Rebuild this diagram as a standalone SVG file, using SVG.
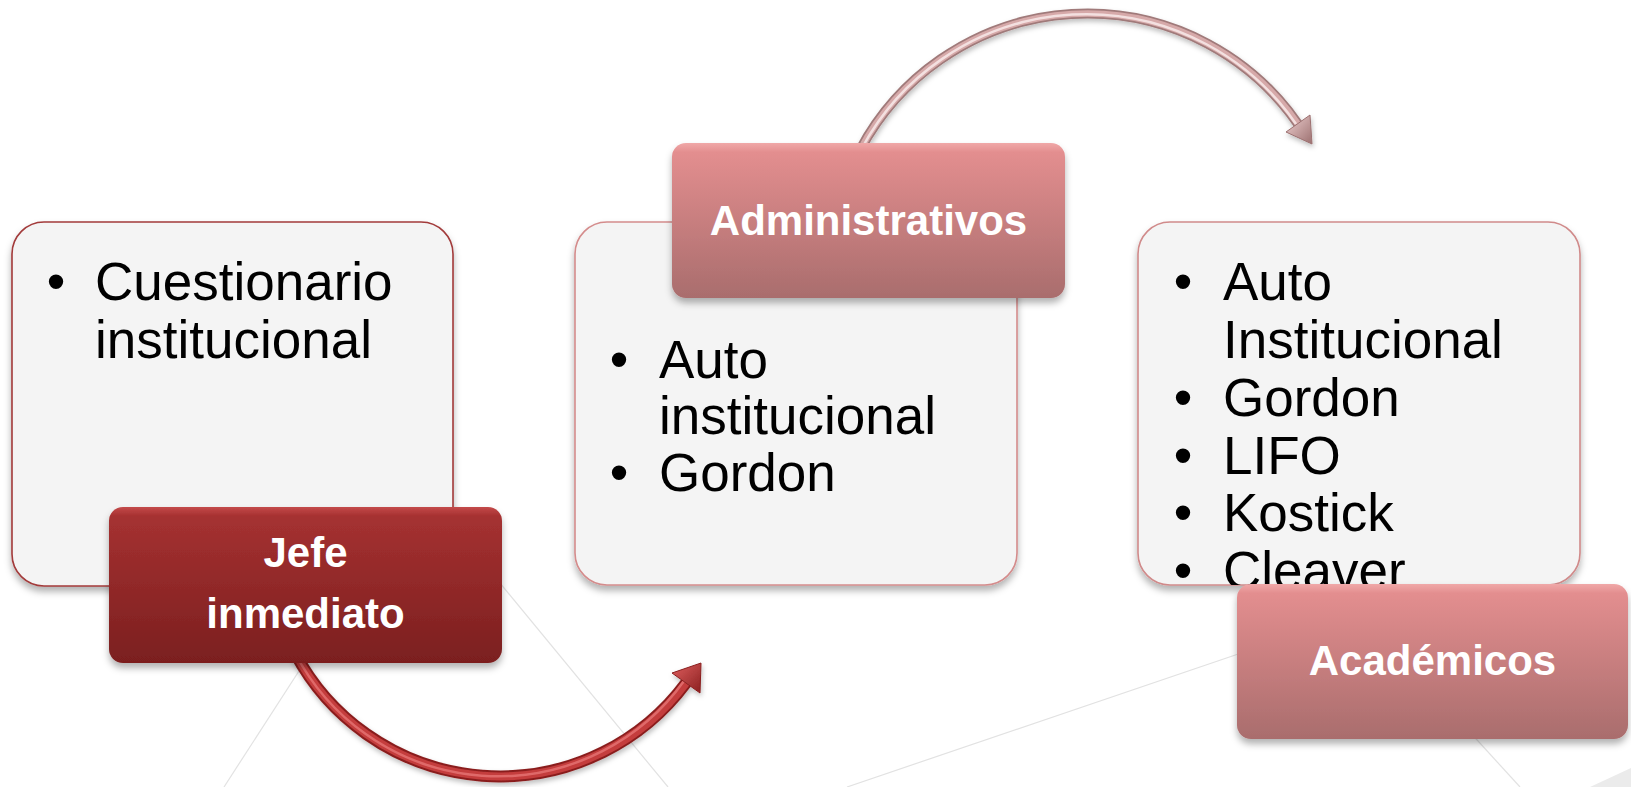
<svg xmlns="http://www.w3.org/2000/svg" width="1631" height="787" viewBox="0 0 1631 787">
<style>
.bg{stroke:#e2e2e2;stroke-width:1.2;fill:none}
.card{fill:#f4f4f4;stroke-width:1.6;filter:url(#sh)}
.body{font-family:"Liberation Sans",Arial,sans-serif;font-size:53px;fill:#000}
.bul{font-family:"Liberation Sans",Arial,sans-serif;font-size:53px;fill:#000;text-anchor:middle}
.hd{font-family:"Liberation Sans",Arial,sans-serif;font-size:42px;font-weight:bold;fill:#fff;text-anchor:middle}
.tubeR1{fill:none;stroke:#8a1f1f;stroke-width:12}
.tubeR2{fill:none;stroke:#c43c3c;stroke-width:8}
.tubeR3{fill:none;stroke:#e67474;stroke-width:2.5;opacity:.8}
.tubeP1{fill:none;stroke:#a07a7a;stroke-width:10}
.tubeP2{fill:none;stroke:#d6a9a9;stroke-width:6.5}
.tubeP3{fill:none;stroke:#f6e6e6;stroke-width:2.5;opacity:.9}
</style>
<defs>
<filter id="sh" x="-10%" y="-10%" width="120%" height="125%">
<feDropShadow dx="0" dy="5" stdDeviation="3.5" flood-color="#000" flood-opacity="0.3"/>
</filter>
<filter id="ash" x="-20%" y="-20%" width="140%" height="140%">
<feDropShadow dx="1" dy="3" stdDeviation="2.5" flood-color="#000" flood-opacity="0.25"/>
</filter>
<linearGradient id="gDark" x1="0" y1="0" x2="0" y2="1">
<stop offset="0" stop-color="#c44a4a"/>
<stop offset="0.06" stop-color="#a53131"/>
<stop offset="1" stop-color="#7b1f1f"/>
</linearGradient>
<linearGradient id="gPink" x1="0" y1="0" x2="0" y2="1">
<stop offset="0" stop-color="#f0a8a8"/>
<stop offset="0.06" stop-color="#e38e8f"/>
<stop offset="1" stop-color="#a96d6d"/>
</linearGradient>
<linearGradient id="gHeadR" x1="0" y1="0" x2="1" y2="1">
<stop offset="0" stop-color="#e06060"/>
<stop offset="1" stop-color="#8a1f1f"/>
</linearGradient>
<linearGradient id="gHeadP" x1="0" y1="0" x2="1" y2="1">
<stop offset="0" stop-color="#f0d2d2"/>
<stop offset="1" stop-color="#9c7070"/>
</linearGradient>
<clipPath id="clipR"><rect x="1138" y="222" width="442" height="363" rx="32"/></clipPath>
</defs>

<rect width="1631" height="787" fill="#fff"/>

<g id="background">
<line class="bg" x1="319" y1="640" x2="224" y2="787"/>
<line class="bg" x1="495" y1="577" x2="668" y2="787"/>
<line class="bg" x1="1250" y1="650" x2="847" y2="787"/>
<line class="bg" x1="1468" y1="730" x2="1520" y2="787"/>
<polygon points="1590,787 1631,768 1631,787" fill="#ebebeb"/>
</g>

<g id="connectors">
<g id="arrow-jefe-admin" filter="url(#ash)">
<path class="tubeR1" d="M295,653 A232,232 0 0 0 686,683"/>
<path class="tubeR2" d="M295,653 A232,232 0 0 0 686,683"/>
<path class="tubeR3" d="M295,653 A229,229 0 0 0 684,681"/>
<polygon points="701,663 672,673 700,693" fill="url(#gHeadR)" stroke="#8a1f1f" stroke-width="1"/>
</g>
<g id="arrow-admin-acad" filter="url(#ash)">
<path class="tubeP1" d="M860,150 A257,257 0 0 1 1298,124"/>
<path class="tubeP2" d="M860,150 A257,257 0 0 1 1298,124"/>
<path class="tubeP3" d="M862,148 A255,255 0 0 1 1296,124"/>
<polygon points="1312,144 1286,132 1310,115" fill="url(#gHeadP)" stroke="#9c7070" stroke-width="1"/>
</g>
</g>

<g id="node-jefe-content">
<rect class="card" x="12" y="222" width="441" height="364" rx="32" stroke="#a23a3a"/>
<text class="bul" x="56" y="300">•</text>
<text class="body" x="95" y="300">Cuestionario</text>
<text class="body" x="95" y="358">institucional</text>
</g>
<g id="node-jefe">
<rect x="109" y="507" width="393" height="156" rx="14" fill="url(#gDark)" filter="url(#sh)"/>
<text class="hd" x="305.5" y="567">Jefe</text>
<text class="hd" x="305.5" y="628">inmediato</text>
</g>

<g id="node-admin-content">
<rect class="card" x="575" y="222" width="442" height="363" rx="32" stroke="#d48c8c"/>
<text class="bul" x="619" y="378">•</text>
<text class="body" x="659" y="378">Auto</text>
<text class="body" x="659" y="434">institucional</text>
<text class="bul" x="619" y="491">•</text>
<text class="body" x="659" y="491">Gordon</text>
</g>
<g id="node-admin">
<rect x="672" y="143" width="393" height="155" rx="14" fill="url(#gPink)" filter="url(#sh)"/>
<text class="hd" x="868.5" y="235">Administrativos</text>
</g>

<g id="node-acad-content">
<rect class="card" x="1138" y="222" width="442" height="363" rx="32" stroke="#d08a8a"/>
<g clip-path="url(#clipR)">
<text class="bul" x="1183" y="300">•</text>
<text class="body" x="1223" y="300">Auto</text>
<text class="body" x="1223" y="358">Institucional</text>
<text class="bul" x="1183" y="416">•</text>
<text class="body" x="1223" y="416">Gordon</text>
<text class="bul" x="1183" y="474">•</text>
<text class="body" x="1223" y="474">LIFO</text>
<text class="bul" x="1183" y="531">•</text>
<text class="body" x="1223" y="531">Kostick</text>
<text class="bul" x="1183" y="589">•</text>
<text class="body" x="1223" y="589">Cleaver</text>
</g>
</g>
<g id="node-acad">
<rect x="1237" y="584" width="391" height="155" rx="14" fill="url(#gPink)" filter="url(#sh)"/>
<text class="hd" x="1432.5" y="675">Académicos</text>
</g>
</svg>
